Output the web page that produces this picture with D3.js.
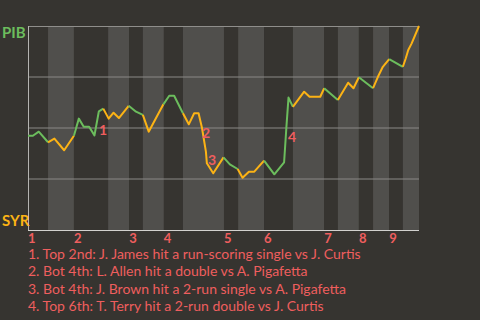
<!DOCTYPE html>
<html>
<head>
<meta charset="utf-8">
<script src="https://cdn.jsdelivr.net/npm/d3@7"></script>
<style>
  html, body { margin: 0; padding: 0; background: #363430; }
  svg { display: block; }
</style>
</head>
<body>
<div id="chart"></div>
<script>
// Half-inning start positions (in plays), top/bottom alternate
const halfStarts = [0, 4.1, 9.4, 16.4, 20.7, 23.5, 27.8, 31.7, 40.1, 43.0, 48.3, 54.2, 60.6, 63.4, 67.7, 70.6, 73.9, 76.7];
const gameEnd = 80;
const innings = [1, 2, 3, 4, 5, 6, 7, 8, 9];

// Win probability for PIB after each play
const playX = [0, 1.0, 2.2, 4.1, 5.4, 7.4, 9.4, 10.4, 11.4, 12.5, 13.6, 14.5, 15.4, 16.5, 17.5, 18.6, 20.6,
  22.1, 23.5, 24.7, 27.7, 28.9, 29.9, 31.7, 32.9, 34.0, 34.9, 35.6, 36.4, 36.6, 37.9, 40.0,
  41.3, 42.9, 43.9, 45.2, 46.3, 48.3, 50.4, 52.4, 52.9, 53.3, 54.2, 56.5, 57.6, 59.8, 60.6,
  63.4, 65.5, 66.6, 67.7, 70.6, 71.6, 72.6, 73.9, 76.7, 77.3, 77.8, 78.5, 80];
const winProb = [0.462, 0.462, 0.482, 0.430, 0.448, 0.391, 0.462, 0.546, 0.506, 0.506, 0.464, 0.582, 0.595, 0.546, 0.575, 0.549, 0.609,
  0.580, 0.564, 0.482, 0.616, 0.658, 0.658, 0.572, 0.518, 0.572, 0.572, 0.500, 0.384, 0.327, 0.278, 0.356,
  0.322, 0.299, 0.256, 0.286, 0.286, 0.340, 0.273, 0.332, 0.515, 0.649, 0.604, 0.678, 0.653, 0.653, 0.695,
  0.637, 0.722, 0.695, 0.749, 0.695, 0.751, 0.800, 0.838, 0.800, 0.842, 0.882, 0.915, 1.0];

// Key plays
const noteIds = ["1", "2", "3", "4"];
const noteX = [13.9, 35.0, 36.2, 52.6];
const noteProb = [0.49, 0.475, 0.343, 0.453];
const noteTexts = [
  "1. Top 2nd: J. James hit a run-scoring single vs J. Curtis",
  "2. Bot 4th: L. Allen hit a double vs A. Pigafetta",
  "3. Bot 4th: J. Brown hit a 2-run single vs A. Pigafetta",
  "4. Top 6th: T. Terry hit a 2-run double vs J. Curtis"
];

const teams = ["PIB", "SYR"];
const gridProbs = [0.25, 0.5, 0.75];

const W = 480, H = 320;
const margin = { top: 26, right: 61, bottom: 90, left: 28 };
const green = "#6cbd5d", orange = "#fcb315", red = "#ef5e5e";
const font = "Lato, sans-serif";

const svg = d3.select("#chart").append("svg")
  .attr("width", W).attr("height", H)
  .style("background", "#363430");

const x = d3.scaleLinear().domain([0, gameEnd]).range([margin.left, W - margin.right]);
const y = d3.scaleLinear().domain([0, 1]).range([H - margin.bottom, margin.top]);

// half-inning bands
const halfEnds = halfStarts.slice(1).concat([gameEnd]);
svg.append("g").selectAll("rect")
  .data(halfStarts)
  .join("rect")
  .attr("x", d => x(d))
  .attr("y", y(1))
  .attr("width", (d, i) => x(halfEnds[i]) - x(d))
  .attr("height", y(0) - y(1))
  .attr("fill", (d, i) => i % 2 === 0 ? "#363430" : "#504f4c");

// grid
svg.append("g").selectAll("line")
  .data(gridProbs)
  .join("line")
  .attr("x1", x(0)).attr("x2", x(gameEnd))
  .attr("y1", d => y(d)).attr("y2", d => y(d))
  .attr("stroke", "#8a8986").attr("stroke-width", 1);

svg.append("line")
  .attr("x1", x(0)).attr("x2", x(gameEnd))
  .attr("y1", y(1) + 0.5).attr("y2", y(1) + 0.5)
  .attr("stroke", "#8f8e8b");

// axes lines
svg.append("line")
  .attr("x1", x(0) + 0.5).attr("x2", x(0) + 0.5)
  .attr("y1", y(1)).attr("y2", y(0))
  .attr("stroke", "#b5b4b1");
svg.append("line")
  .attr("x1", x(0)).attr("x2", x(gameEnd))
  .attr("y1", y(0) + 0.5).attr("y2", y(0) + 0.5)
  .attr("stroke", "#d2d1ce");

// which half-inning a play belongs to
function halfOf(px) {
  for (let h = 0; h < halfStarts.length; h++) {
    if (px > halfStarts[h] && px <= halfEnds[h]) return h;
  }
  return 0;
}

// split the line into runs by batting team
const pts = playX.map((d, i) => [d, winProb[i]]);
const runs = [];
for (let i = 1; i < pts.length; i++) {
  const col = halfOf(pts[i][0]) % 2 === 0 ? green : orange;
  const last = runs[runs.length - 1];
  if (last && last.color === col) last.points.push(pts[i]);
  else runs.push({ color: col, points: [pts[i - 1], pts[i]] });
}

const line = d3.line().x(d => x(d[0])).y(d => y(d[1]));
svg.append("g").selectAll("path")
  .data(runs)
  .join("path")
  .attr("d", d => line(d.points))
  .attr("fill", "none")
  .attr("stroke", d => d.color)
  .attr("stroke-width", 2)
  .attr("stroke-linejoin", "round");

// team labels
svg.append("text")
  .attr("x", 2).attr("y", y(1) + 12)
  .attr("fill", green)
  .style("font", "bold 15px " + font)
  .text(teams[0]);
svg.append("text")
  .attr("x", 2).attr("y", y(0) - 4)
  .attr("fill", orange)
  .style("font", "bold 15px " + font)
  .text(teams[1]);

// inning numbers
svg.append("g").selectAll("text")
  .data(innings)
  .join("text")
  .attr("x", d => x(halfStarts[(d - 1) * 2]))
  .attr("y", y(0) + 13)
  .attr("fill", red)
  .style("font", "bold 13px " + font)
  .text(d => d);

// play markers
svg.append("g").selectAll("text")
  .data(noteIds)
  .join("text")
  .attr("x", (d, i) => x(noteX[i]) + 3)
  .attr("y", (d, i) => y(noteProb[i]))
  .attr("dy", "0.35em")
  .attr("fill", red)
  .style("font", "bold 14px " + font)
  .text(d => d);

// notes
svg.append("g").selectAll("text")
  .data(noteTexts)
  .join("text")
  .attr("x", 28)
  .attr("y", (d, i) => 259 + i * 17.4)
  .attr("fill", red)
  .style("font", "14px " + font)
  .text(d => d);
</script>
</body>
</html>
